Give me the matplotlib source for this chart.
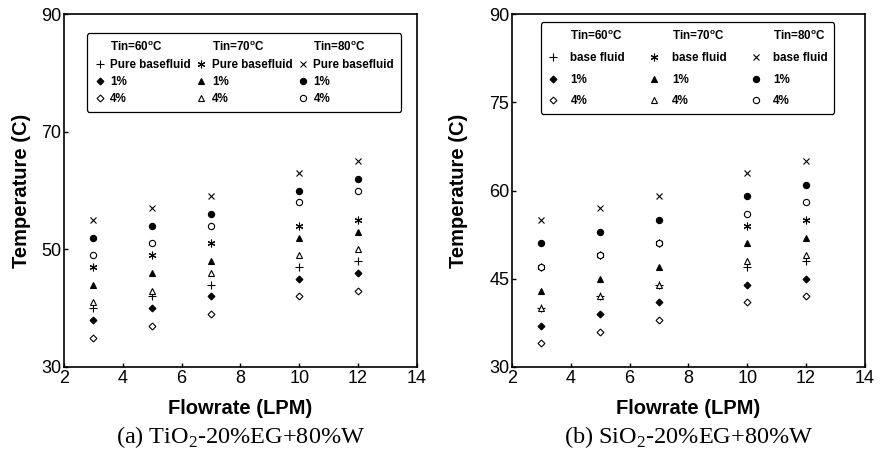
import numpy as np
import matplotlib
matplotlib.use("Agg")
import matplotlib.pyplot as plt
from matplotlib.lines import Line2D

plt.rcParams['font.family'] = ['Liberation Sans', 'DejaVu Sans']
plt.rcParams['mathtext.fontset'] = 'custom'
plt.rcParams['mathtext.rm'] = 'Liberation Serif'
plt.rcParams['mathtext.bf'] = 'Liberation Sans:bold'

flow = [3, 5, 7, 10, 12]

# TiO2 panel (a)
tio2_60_base = [40, 42, 44, 47, 48]
tio2_60_1 = [38, 40, 42, 45, 46]
tio2_60_4 = [35, 37, 39, 42, 43]
tio2_70_base = [47, 49, 51, 54, 55]
tio2_70_1 = [44, 46, 48, 52, 53]
tio2_70_4 = [41, 43, 46, 49, 50]
tio2_80_base = [55, 57, 59, 63, 65]
tio2_80_1 = [52, 54, 56, 60, 62]
tio2_80_4 = [49, 51, 54, 58, 60]

# SiO2 panel (b)
sio2_60_base = [40, 42, 44, 47, 48]
sio2_60_1 = [37, 39, 41, 44, 45]
sio2_60_4 = [34, 36, 38, 41, 42]
sio2_70_base = [47, 49, 51, 54, 55]
sio2_70_1 = [43, 45, 47, 51, 52]
sio2_70_4 = [40, 42, 44, 48, 49]
sio2_80_base = [55, 57, 59, 63, 65]
sio2_80_1 = [51, 53, 55, 59, 61]
sio2_80_4 = [47, 49, 51, 56, 58]

asterisk = (6, 2, 0)

# marker, size, filled
styles = {
    '60_base': ('+', 5.5, True),
    '60_1': ('D', 3.5, True),
    '60_4': ('D', 3.5, False),
    '70_base': (asterisk, 5.5, True),
    '70_1': ('^', 4.5, True),
    '70_4': ('^', 4.5, False),
    '80_base': ('x', 5, True),
    '80_1': ('o', 4.5, True),
    '80_4': ('o', 4.5, False),
}


def draw_panel(ax, series, base_label, yticks, legend_kw, ypad):
    for key, vals in series.items():
        m, s, filled = styles[key]
        ax.plot(flow, vals, linestyle='none', marker=m, markersize=s,
                color='black', markerfacecolor='black' if filled else 'white',
                markeredgewidth=0.8)

    handles = []
    labels = []
    for t in ['60', '70', '80']:
        handles.append(Line2D([], [], linestyle='none', marker=None))
        labels.append('Tin=' + t + r'$^\mathbf{o}$C')
        for key, lab in [('_base', base_label), ('_1', '1%'), ('_4', '4%')]:
            m, s, filled = styles[t + key]
            handles.append(Line2D([], [], linestyle='none', marker=m, markersize=s,
                                  color='black',
                                  markerfacecolor='black' if filled else 'white',
                                  markeredgewidth=0.8))
            labels.append(lab)
    leg = ax.legend(handles, labels, ncol=3, fancybox=True,
                    prop={'family': 'Liberation Sans', 'weight': 'bold', 'size': 8.4},
                    handlelength=1.0, **legend_kw)
    leg.get_frame().set_edgecolor('black')
    leg.get_frame().set_linewidth(0.9)
    leg.get_frame().set_alpha(1)

    ax.set_xlim(2, 14)
    ax.set_ylim(30, 90)
    ax.set_xticks([2, 4, 6, 8, 10, 12, 14])
    ax.set_yticks(yticks)
    ax.tick_params(direction='in', top=False, right=False, labelsize=13,
                   length=3, width=1, pad=2)
    for sp in ax.spines.values():
        sp.set_linewidth(1.2)
    ax.set_xlabel('Flowrate (LPM)', fontsize=14.5, fontweight='bold', labelpad=9)
    ax.set_ylabel('Temperature (C)', fontsize=14.5, fontweight='bold', labelpad=ypad)


fig = plt.figure(figsize=(8.8, 4.58), dpi=100)
ax1 = fig.add_axes([0.0727, 0.1987, 0.4011, 0.7707])
ax2 = fig.add_axes([0.5818, 0.1987, 0.4011, 0.7707])

draw_panel(ax1, {
    '60_base': tio2_60_base, '60_1': tio2_60_1, '60_4': tio2_60_4,
    '70_base': tio2_70_base, '70_1': tio2_70_1, '70_4': tio2_70_4,
    '80_base': tio2_80_base, '80_1': tio2_80_1, '80_4': tio2_80_4,
}, 'Pure basefluid', [30, 50, 70, 90],
    dict(loc='upper center', bbox_to_anchor=(0.51, 0.962), columnspacing=0.4,
         handletextpad=0.4, labelspacing=0.42, borderpad=0.6), ypad=7)

draw_panel(ax2, {
    '60_base': sio2_60_base, '60_1': sio2_60_1, '60_4': sio2_60_4,
    '70_base': sio2_70_base, '70_1': sio2_70_1, '70_4': sio2_70_4,
    '80_base': sio2_80_base, '80_1': sio2_80_1, '80_4': sio2_80_4,
}, 'base fluid', [30, 45, 60, 75, 90],
    dict(loc='upper center', bbox_to_anchor=(0.497, 0.993), columnspacing=2.0,
         handletextpad=1.0, labelspacing=0.82, borderpad=0.55), ypad=15)

fig.text(0.2733, 0.045, r'(a) TiO$_2$-20%EG+80%W', ha='center', va='center',
         fontsize=17.5, family='Liberation Serif')
fig.text(0.7823, 0.045, r'(b) SiO$_2$-20%EG+80%W', ha='center', va='center',
         fontsize=17.5, family='Liberation Serif')

fig.savefig('out.png', dpi=100)
